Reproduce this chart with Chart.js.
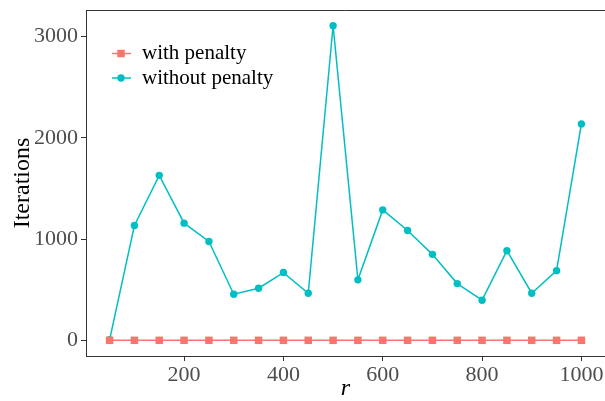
<!DOCTYPE html>
<html><head><meta charset="utf-8">
<script src="https://cdn.jsdelivr.net/npm/chart.js@4/dist/chart.umd.min.js"></script>
<style>html,body{margin:0;padding:0;background:#fff;}#wrap{width:605px;height:401px;}</style>
</head><body><div id="wrap"><canvas id="c" width="605" height="401"></canvas></div>
<script>
const rValues = [50,100,150,200,250,300,350,400,450,500,550,600,650,700,750,800,850,900,950,1000];
const withPenalty = [0,0,0,0,0,0,0,0,0,0,0,0,0,0,0,0,0,0,0,0];
const withoutPenalty = [5,1134,1629,1157,976,455,514,669,465,3107,597,1288,1085,849,560,396,885,465,688,2137];
const xTicks = [200,400,600,800,1000];
const yTicks = [0,1000,2000,3000];
const seriesLabels = ['with penalty','without penalty'];
const xTitle = 'r';
const yTitle = 'Iterations';

const FONT = '"Liberation Serif", "Times New Roman", serif';
const toPts = (ys) => rValues.map((x,i)=>({x:x, y:ys[i]}));
const noPad = (s) => { s.paddingLeft = 0; s.paddingRight = 0; s.paddingTop = 0; s.paddingBottom = 0; };

const legendPlugin = {
  id: 'insideLegend',
  afterDraw(chart) {
    const ctx = chart.ctx;
    const a = chart.chartArea;
    const x0 = a.left + 26, x1 = a.left + 45, xm = a.left + 35, tx = a.left + 56;
    const y0 = 53.5, dy = 24.5;
    chart.data.datasets.forEach((d, i) => {
      const y = y0 + i * dy;
      ctx.save();
      ctx.strokeStyle = d.borderColor;
      ctx.lineWidth = d.borderWidth;
      ctx.beginPath(); ctx.moveTo(x0, y); ctx.lineTo(x1, y); ctx.stroke();
      ctx.fillStyle = d.pointBackgroundColor;
      ctx.strokeStyle = d.pointBackgroundColor;
      Chart.helpers.drawPoint(ctx, {pointStyle: d.pointStyle, rotation: 0, radius: d.pointRadius, borderWidth: 0}, xm, y);
      ctx.fillStyle = '#000';
      ctx.font = '21px ' + FONT;
      ctx.textBaseline = 'middle';
      ctx.textAlign = 'left';
      ctx.fillText(d.label, tx, y);
      ctx.restore();
    });
  }
};
const borderPlugin = {
  id: 'panelTop',
  afterDraw(chart) {
    const ctx = chart.ctx, a = chart.chartArea;
    ctx.save();
    ctx.strokeStyle = '#333333';
    ctx.lineWidth = 1;
    ctx.beginPath();
    ctx.moveTo(a.left, a.top + 0.5);
    ctx.lineTo(a.right, a.top + 0.5);
    ctx.stroke();
    ctx.restore();
  }
};

new Chart(document.getElementById('c'), {
  type: 'line',
  data: {
    datasets: [
      {label: seriesLabels[0], data: toPts(withPenalty), borderColor: '#F8766D', backgroundColor: '#F8766D',
       pointBackgroundColor: '#F8766D', pointBorderWidth: 0, pointStyle: 'rect', pointRadius: 5.3, borderWidth: 1.5},
      {label: seriesLabels[1], data: toPts(withoutPenalty), borderColor: '#00BFC4', backgroundColor: '#00BFC4',
       pointBackgroundColor: '#00BFC4', pointBorderWidth: 0, pointStyle: 'circle', pointRadius: 3.7, borderWidth: 1.5}
    ]
  },
  options: {
    responsive: false,
    animation: false,
    devicePixelRatio: 1,
    layout: {autoPadding: false, padding: {top: 10, left: 0, right: 0, bottom: 0}},
    plugins: {legend: {display: false}, tooltip: {enabled: false}},
    scales: {
      x: {
        type: 'linear', min: 2.5, max: 1047.5,
        afterBuildTicks: (s) => { s.ticks = xTicks.map(v => ({value: v})); },
        afterFit: (s) => { s.height = 45; noPad(s); },
        grid: {drawOnChartArea: false, drawTicks: true, tickLength: 5, color: '#333333'},
        border: {display: true, color: '#333333', width: 1},
        ticks: {font: {family: FONT, size: 22}, color: '#4D4D4D', padding: 1, maxRotation: 0, callback: (v) => String(v)},
        title: {display: true, text: xTitle, font: {family: FONT, size: 24, style: 'italic', lineHeight: 1}, color: '#000', padding: {top: 0, bottom: 0}}
      },
      y: {
        type: 'linear', min: -155, max: 3262,
        afterBuildTicks: (s) => { s.ticks = yTicks.map(v => ({value: v})); },
        afterFit: (s) => { s.width = 86; noPad(s); },
        grid: {drawOnChartArea: false, drawTicks: true, tickLength: 5, color: '#333333'},
        border: {display: true, color: '#333333', width: 1},
        ticks: {font: {family: FONT, size: 22}, color: '#4D4D4D', padding: 3, callback: (v) => String(v)},
        title: {display: true, text: yTitle, font: {family: FONT, size: 24, lineHeight: 1.2}, color: '#000', padding: {top: 8, bottom: 0}}
      }
    }
  },
  plugins: [legendPlugin, borderPlugin]
});
</script></body></html>
